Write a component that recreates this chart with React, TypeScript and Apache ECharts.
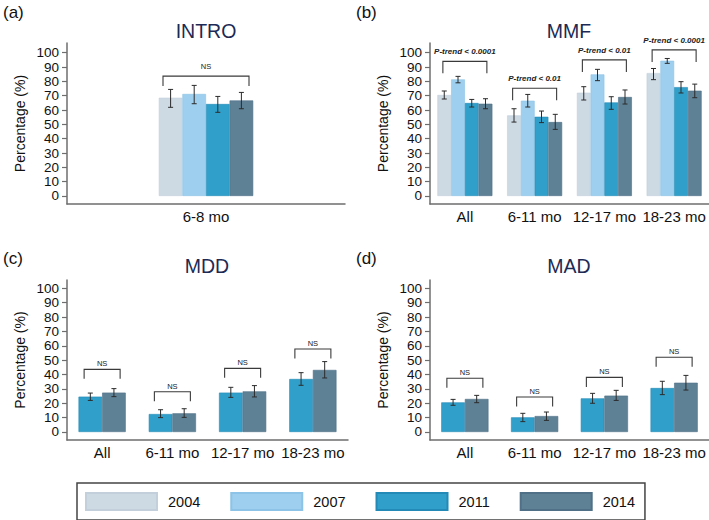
import React, { useEffect, useRef } from "react";
import * as echarts from "echarts";

const years = ["2004", "2007", "2011", "2014"];
const yearColors = ["#cdd9e3", "#9ecfee", "#30a0cb", "#5f8196"];
const yearBorders = ["#c3d0db", "#8dc3e6", "#2389b6", "#4f7087"];
const introCats = ["6-8 mo"];
const ageCats = ["All", "6-11 mo", "12-17 mo", "18-23 mo"];
const yTicks = [0, 10, 20, 30, 40, 50, 60, 70, 80, 90, 100];

// INTRO (by year: 2004, 2007, 2011, 2014)
const introMean = [[68.6], [71.2], [64.2], [66.7]];
const introLow = [[61.9], [64.4], [58.4], [60.9]];
const introHigh = [[74.4], [77.2], [69.5], [72.3]];
const introBracket = [83.7];
const introBracketText = ["NS"];

// MMF
const mmfMean = [
  [70.5, 56.3, 72.1, 85.8],
  [81.4, 66.5, 84.9, 94.4],
  [64.9, 55.3, 65.3, 76.0],
  [64.4, 51.6, 69.1, 73.5],
];
const mmfLow = [
  [67.7, 51.6, 67.0, 81.2],
  [79.0, 62.1, 80.5, 92.6],
  [62.1, 51.2, 60.5, 71.9],
  [60.9, 46.5, 64.2, 68.6],
];
const mmfHigh = [
  [73.3, 60.9, 76.3, 89.0],
  [83.5, 70.9, 88.4, 96.0],
  [67.4, 59.3, 69.3, 79.8],
  [67.9, 57.0, 74.0, 78.1],
];
const mmfBracket = [94, 75.2, 95, 102];
const mmfBracketText = ["P-trend < 0.0001", "P-trend < 0.01", "P-trend < 0.01", "P-trend < 0.0001"];

// MDD (2011, 2014)
const mddMean = [
  [24.6, 12.5, 27.4, 36.9],
  [27.4, 13.0, 28.3, 43.2],
];
const mddLow = [
  [22.0, 10.0, 24.1, 32.5],
  [24.6, 10.2, 24.4, 37.6],
];
const mddHigh = [
  [27.1, 15.5, 31.1, 41.3],
  [30.2, 16.2, 32.3, 49.0],
];
const mddBracket = [43.6, 28, 44.3, 57.8];
const mddBracketText = ["NS", "NS", "NS", "NS"];

// MAD (2011, 2014)
const madMean = [
  [20.6, 10.2, 23.4, 30.6],
  [23.0, 11.1, 25.3, 34.3],
];
const madLow = [
  [18.6, 7.2, 20.0, 26.0],
  [20.4, 8.1, 22.0, 29.2],
];
const madHigh = [
  [22.7, 13.0, 26.9, 35.3],
  [25.5, 13.9, 29.0, 39.4],
];
const madBracket = [37.4, 24.4, 38, 52];
const madBracketText = ["NS", "NS", "NS", "NS"];

const FONT = "'Liberation Sans', Arial, Helvetica, sans-serif";
const AXIS_COLOR = "#6e6e6e";

type Panel = {
  title: string;
  tag: string;
  cats: string[];
  yearIdx: number[];
  mean: number[][];
  low: number[][];
  high: number[][];
  bracket: number[];
  bracketText: string[];
  grid: { left: number; top: number; width: number; height: number };
  yMin: number;
  yMax: number;
  barWidth: number;
  bracketHalf: number;
  bracketDrop: number;
  textUp: number;
  bold: boolean;
  titlePos: [number, number];
  tagPos: [number, number];
};

const panels: Panel[] = [
  {
    title: "INTRO", tag: "(a)", cats: introCats, yearIdx: [0, 1, 2, 3],
    mean: introMean, low: introLow, high: introHigh,
    bracket: introBracket, bracketText: introBracketText,
    grid: { left: 67, top: 43, width: 278, height: 161 }, yMin: -5.6, yMax: 106.8,
    barWidth: 23.6, bracketHalf: 43, bracketDrop: 10, textUp: 10, bold: false,
    titlePos: [206, 31], tagPos: [3, 12],
  },
  {
    title: "MMF", tag: "(b)", cats: ageCats, yearIdx: [0, 1, 2, 3],
    mean: mmfMean, low: mmfLow, high: mmfHigh,
    bracket: mmfBracket, bracketText: mmfBracketText,
    grid: { left: 430, top: 43, width: 279, height: 161 }, yMin: -5.6, yMax: 106.8,
    barWidth: 13.75, bracketHalf: 22, bracketDrop: 12, textUp: 9.5, bold: true,
    titlePos: [569, 31], tagPos: [356, 12],
  },
  {
    title: "MDD", tag: "(c)", cats: ageCats, yearIdx: [2, 3],
    mean: mddMean, low: mddLow, high: mddHigh,
    bracket: mddBracket, bracketText: mddBracketText,
    grid: { left: 67, top: 280, width: 281, height: 160 }, yMin: -5.57, yMax: 105.8,
    barWidth: 23.6, bracketHalf: 18, bracketDrop: 9.5, textUp: 5.5, bold: false,
    titlePos: [207, 266], tagPos: [3, 258],
  },
  {
    title: "MAD", tag: "(d)", cats: ageCats, yearIdx: [2, 3],
    mean: madMean, low: madLow, high: madHigh,
    bracket: madBracket, bracketText: madBracketText,
    grid: { left: 430, top: 280, width: 279, height: 160 }, yMin: -5.57, yMax: 105.8,
    barWidth: 23.6, bracketHalf: 18, bracketDrop: 9.5, textUp: 5.5, bold: false,
    titlePos: [569, 266], tagPos: [356, 258],
  },
];

function buildOption() {
  const grid: any[] = [];
  const xAxis: any[] = [];
  const yAxis: any[] = [];
  const series: any[] = [];
  const graphic: any[] = [];

  panels.forEach((p, g) => {
    grid.push({ ...p.grid, containLabel: false });
    xAxis.push({
      gridIndex: g,
      type: "category",
      data: p.cats,
      axisLine: { show: true, onZero: false, lineStyle: { color: AXIS_COLOR, width: 1.5 } },
      axisTick: { show: false },
      axisLabel: { interval: 0, hideOverlap: false, fontSize: 15, color: "#111", margin: 5, fontFamily: FONT },
      splitLine: { show: false },
    });
    yAxis.push({
      gridIndex: g,
      type: "value",
      min: p.yMin,
      max: p.yMax,
      axisLine: { show: true, lineStyle: { color: AXIS_COLOR, width: 1.5 } },
      axisTick: { show: true, length: 5, interval: 0, customValues: yTicks, lineStyle: { color: AXIS_COLOR, width: 1.2 } },
      axisLabel: {
        customValues: yTicks,
        interval: 0,
        showMinLabel: true,
        showMaxLabel: true,
        hideOverlap: false,
        fontSize: 13.5,
        lineHeight: 12,
        color: "#111",
        margin: 8,
        fontFamily: FONT,
        formatter: (v: number) => (Math.abs(v % 10) < 1e-6 ? String(v) : ""),
      },
      splitLine: { show: false },
      name: "Percentage (%)",
      nameLocation: "middle",
      nameGap: 40,
      nameTextStyle: { fontSize: 14, color: "#111", fontFamily: FONT },
    });

    const n = p.yearIdx.length;
    p.yearIdx.forEach((yi, k) => {
      series.push({
        type: "bar",
        name: years[yi],
        xAxisIndex: g,
        yAxisIndex: g,
        data: p.mean[k],
        barWidth: p.barWidth,
        barGap: "0%",
        itemStyle: { color: yearColors[yi], borderColor: yearBorders[yi], borderWidth: 0.6 },
        emphasis: { disabled: true },
      });
    });
    p.yearIdx.forEach((yi, k) => {
      const offset = (k - (n - 1) / 2) * p.barWidth;
      series.push({
        type: "custom",
        name: "err-" + g + "-" + k,
        xAxisIndex: g,
        yAxisIndex: g,
        data: p.cats.map((_, c) => [c, p.low[k][c], p.high[k][c]]),
        encode: { x: 0, y: [1, 2] },
        z: 5,
        silent: true,
        renderItem: (params: any, api: any) => {
          const c = api.value(0);
          const lo = api.coord([c, api.value(1)]);
          const hi = api.coord([c, api.value(2)]);
          const x = lo[0] + offset;
          const cap = 2.5;
          const st = { stroke: "#2b2b2b", lineWidth: 1 };
          return {
            type: "group",
            children: [
              { type: "line", shape: { x1: x, y1: lo[1], x2: x, y2: hi[1] }, style: st },
              { type: "line", shape: { x1: x - cap, y1: lo[1], x2: x + cap, y2: lo[1] }, style: st },
              { type: "line", shape: { x1: x - cap, y1: hi[1], x2: x + cap, y2: hi[1] }, style: st },
            ],
          };
        },
      });
    });
    series.push({
      type: "custom",
      name: "bracket-" + g,
      xAxisIndex: g,
      yAxisIndex: g,
      data: p.cats.map((_, c) => [c, p.bracket[c]]),
      encode: { x: 0, y: 1 },
      z: 6,
      silent: true,
      renderItem: (params: any, api: any) => {
        const c = api.value(0);
        const pt = api.coord([c, api.value(1)]);
        const cx = pt[0];
        const y = pt[1];
        const h = p.bracketHalf;
        return {
          type: "group",
          children: [
            {
              type: "polyline",
              shape: {
                points: [
                  [cx - h, y + p.bracketDrop],
                  [cx - h, y],
                  [cx + h, y],
                  [cx + h, y + p.bracketDrop],
                ],
              },
              style: { stroke: "#3a3a3a", lineWidth: 1.1, fill: null },
            },
            {
              type: "text",
              x: cx,
              y: y - p.textUp,
              style: {
                text: p.bracketText[params.dataIndex],
                align: "center",
                verticalAlign: "middle",
                fontSize: p.bold ? 8 : 7.5,
                fontWeight: p.bold ? "bold" : "normal",
                fontStyle: p.bold ? "italic" : "normal",
                fontFamily: FONT,
                fill: "#222",
              },
            },
          ],
        };
      },
    });

    graphic.push({
      type: "text",
      x: p.titlePos[0],
      y: p.titlePos[1],
      style: {
        text: p.title,
        align: "center",
        verticalAlign: "middle",
        fontSize: 19.5,
        fontFamily: FONT,
        fill: "#1c2a55",
      },
    });
    graphic.push({
      type: "text",
      x: p.tagPos[0],
      y: p.tagPos[1],
      style: {
        text: p.tag,
        align: "left",
        verticalAlign: "middle",
        fontSize: 17,
        fontFamily: FONT,
        fill: "#111",
      },
    });
  });

  return {
    animation: false,
    backgroundColor: "#ffffff",
    grid,
    xAxis,
    yAxis,
    series,
    graphic,
    legend: {
      data: years,
      left: 77,
      top: 483,
      orient: "horizontal",
      icon: "rect",
      itemWidth: 71,
      itemHeight: 17,
      itemGap: 30,
      padding: [9, 10, 9, 8],
      borderColor: "#444",
      borderWidth: 1.5,
      selectedMode: false,
      textStyle: { fontSize: 14.5, color: "#111", fontFamily: FONT, padding: [0, 0, 0, 6] },
    },
  };
}

export default function App() {
  const ref = useRef<HTMLDivElement>(null);
  useEffect(() => {
    document.body.style.margin = "0";
    if (!ref.current) return;
    const chart = echarts.init(ref.current, null, { renderer: "svg" });
    chart.setOption(buildOption() as any);
    return () => chart.dispose();
  }, []);
  return <div ref={ref} style={{ width: 709, height: 520, background: "#fff" }} />;
}
